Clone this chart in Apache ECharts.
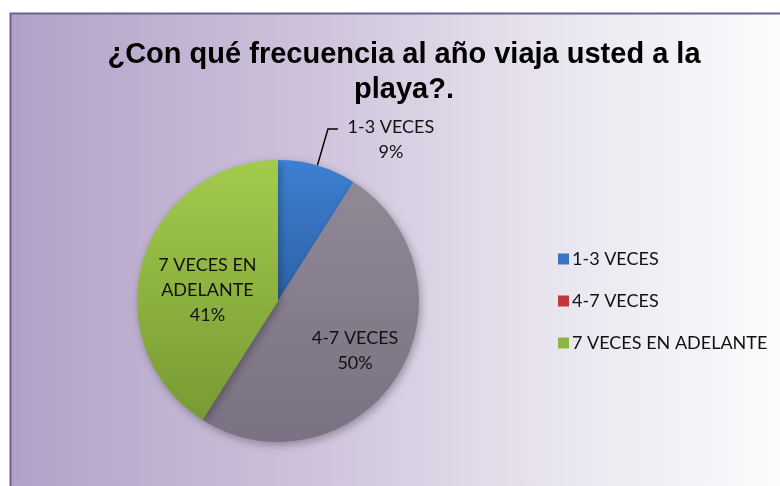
<!DOCTYPE html>
<html>
<head>
<meta charset="utf-8">
<script src="https://cdn.jsdelivr.net/npm/echarts@6/dist/echarts.min.js"></script>
<style>
  html, body { margin: 0; padding: 0; background: #fff; }
  #myChart { width: 780px; height: 486px; }
</style>
</head>
<body>
<div id="myChart"></div>
<script>
const title = '¿Con qué frecuencia al año viaja usted a la\nplaya?.';
const categories = ['1-3 VECES', '4-7 VECES', '7 VECES EN ADELANTE'];
const values = [9, 50, 41];
// slice fill (top, bottom) and legend swatch colours
const sliceColors = [['#3d80d2', '#2d62a6'], ['#8f8895', '#7a7182'], ['#a2cb4d', '#789a33']];
const legendColors = ['#3b74c4', '#c0393a', '#8fb443'];

const grad = (c) => new echarts.graphic.LinearGradient(0, 0, 0, 1, [
  { offset: 0, color: c[0] },
  { offset: 1, color: c[1] },
]);

const txt = { fontFamily: 'Lato', fontSize: 18, lineHeight: 25, color: '#111' };
// a blank leading line pushes the text block down a little, like Excel places it
const pctLabel = (p) => '{s| }\n{c|' + p.name.replace(' EN ', ' EN}\n{c|') + '}\n{c|' + p.percent.toFixed(0) + '%}';

const setOption = () => {
  return {
    animation: false,
    graphic: [
      {
        type: 'rect',
        z: -10,
        shape: { x: 10.5, y: 13.5, width: 780, height: 480 },
        style: {
          fill: new echarts.graphic.LinearGradient(0, 0, 1, 0, [
            { offset: 0, color: '#b2a1c7' },
            { offset: 0.35, color: '#cbbfd9' },
            { offset: 0.7, color: '#e9e5ef' },
            { offset: 1, color: '#fcfcfd' },
          ]),
          stroke: '#6e5e8e',
          lineWidth: 2,
        },
      },
    ],
    title: {
      text: title,
      left: 399,
      top: 32,
      textAlign: 'center',
      textStyle: {
        fontFamily: 'Liberation Sans',
        fontWeight: 'bold',
        fontSize: 29,
        lineHeight: 35,
        color: '#000',
      },
    },
    legend: {
      orient: 'vertical',
      left: 553,
      top: 245,
      itemWidth: 11,
      itemHeight: 11,
      itemGap: 24,
      icon: 'rect',
      textStyle: { fontFamily: 'Lato', fontSize: 18, color: '#111', padding: [0, 0, 0, -2] },
      data: categories.map((name, i) => ({ name, itemStyle: { color: legendColors[i] } })),
    },
    series: [
      {
        type: 'pie',
        center: [278, 301],
        radius: 141,
        startAngle: 90,
        clockwise: true,
        label: {
          ...txt,
          formatter: pctLabel,
        },
        labelLine: {
          lineStyle: { color: '#000', width: 1.5 },
        },
        itemStyle: {
          shadowBlur: 8,
          shadowColor: 'rgba(0,0,0,0.3)',
          shadowOffsetX: 2,
          shadowOffsetY: 3,
        },
        data: categories.map((name, i) => ({
          name,
          value: values[i],
          itemStyle: { color: grad(sliceColors[i]) },
          label: i === 0
            ? { position: 'outside', rich: { s: { lineHeight: 21 }, c: { ...txt, width: 96, align: 'center' } } }
            : i === 1
              ? { position: 'inside', padding: [0, 0, 0, 30], rich: { s: { lineHeight: 20 }, c: { ...txt, align: 'center' } } }
              : { position: 'inside', rich: { s: { lineHeight: 19 }, c: { ...txt, align: 'center' } } },
          labelLine: i === 0 ? { show: true, length: 38, length2: 10 } : { show: false },
        })),
      },
    ],
  };
};

const myChart = echarts.init(document.getElementById('myChart'));
myChart.setOption(setOption());
</script>
</body>
</html>
